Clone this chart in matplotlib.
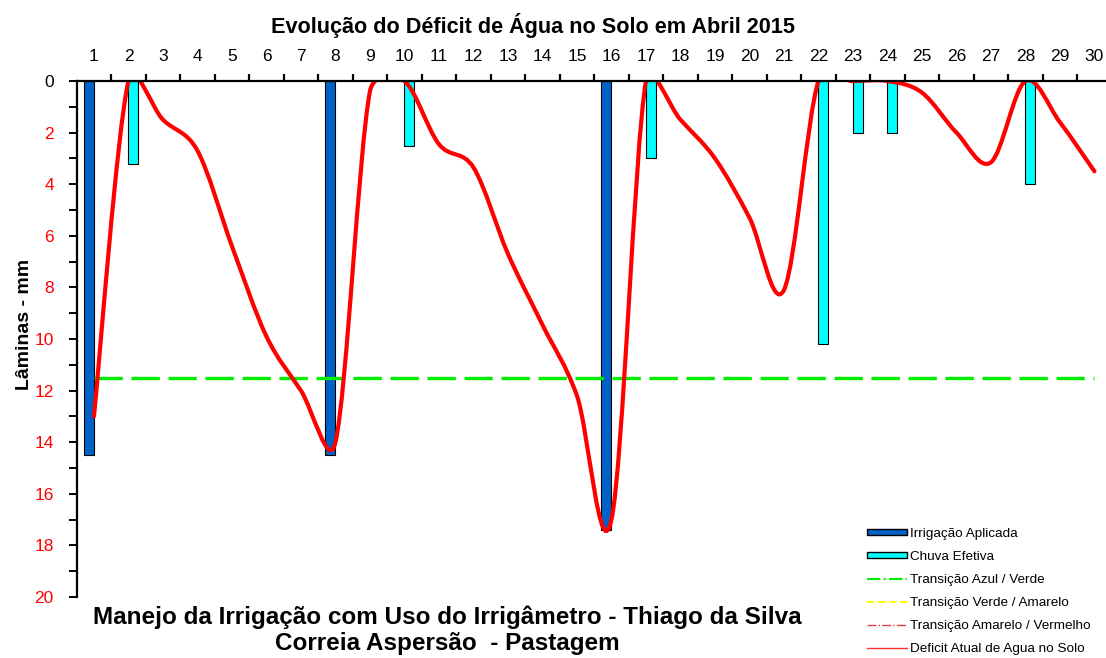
import numpy as np
import matplotlib
matplotlib.use("Agg")
import matplotlib.pyplot as plt
from matplotlib.path import Path
from matplotlib.patches import PathPatch, Patch
from matplotlib.lines import Line2D
from matplotlib.ticker import FixedLocator, MultipleLocator

plt.rcParams['font.family'] = ['Liberation Sans', 'DejaVu Sans']

# Dados (mm)
dias = list(range(1, 31))
deficit = [13.0, 0, 1.5, 2.7, 6.4, 9.9, 12.0, 14.0, 0.4, 0,
           2.45, 3.35, 6.7, 9.45, 12.2, 17.0, 0, 1.5, 3.0, 5.3,
           8.1, 0, 0, 0, 0.45, 2.0, 3.15, 0, 1.6, 3.5]
irrigacao = [14.5, 0, 0, 0, 0, 0, 0, 14.5, 0, 0,
             0, 0, 0, 0, 0, 17.4, 0, 0, 0, 0,
             0, 0, 0, 0, 0, 0, 0, 0, 0, 0]
chuva = [0, 3.2, 0, 0, 0, 0, 0, 0, 0, 2.5,
         0, 0, 0, 0, 0, 0, 3.0, 0, 0, 0,
         0, 10.2, 2.0, 2.0, 0, 0, 0, 4.0, 0, 0]
limiar_azul_verde = 11.5

titulo = "Evolução do Déficit de Água no Solo em Abril 2015"
rodape = "Manejo da Irrigação com Uso do Irrigâmetro - Thiago da Silva\nCorreia Aspersão  - Pastagem"

azul = '#0062C8'
ciano = '#00FFFF'
verde = '#00EE00'
vermelho = '#FF0000'

W, H = 1106, 658
fig = plt.figure(figsize=(W / 100, H / 100), dpi=100)
ax = fig.add_axes([76.7 / W, 1 - 597 / H, 1035 / W, 516 / H])
ax.set_xlim(0.5, 30.5)
ax.set_ylim(20, 0)

# barras
d = np.array(dias)
irr = np.array(irrigacao)
chv = np.array(chuva)
m1 = irr > 0
m2 = chv > 0
ax.bar(d[m1] - 0.145, irr[m1], width=0.29, color=azul, edgecolor='black', linewidth=0.8, zorder=1)
ax.bar(d[m2] + 0.145, chv[m2], width=0.29, color=ciano, edgecolor='black', linewidth=0.8, zorder=1)

# linha limiar
ax.plot([dias[0], dias[-1]], [limiar_azul_verde, limiar_azul_verde], color=verde,
        lw=2.4, dashes=(8.5, 2.6), zorder=2)


# linha suavizada (estilo Excel): Bezier com tangentes de Catmull-Rom,
# limitadas a metade de cada segmento (em pixels)
def curva_suave(ax, x, y):
    pts = ax.transData.transform(np.column_stack([x, y]))
    n = len(pts)
    tang = [(pts[min(i + 1, n - 1)] - pts[max(i - 1, 0)]) / 6 for i in range(n)]
    verts = [pts[0]]
    codes = [Path.MOVETO]
    for i in range(n - 1):
        seg = np.hypot(*(pts[i + 1] - pts[i])) / 2
        t0, t1 = tang[i], tang[i + 1]
        k0 = min(1.0, seg / max(np.hypot(*t0), 1e-9))
        k1 = min(1.0, seg / max(np.hypot(*t1), 1e-9))
        verts += [pts[i] + t0 * k0, pts[i + 1] - t1 * k1, pts[i + 1]]
        codes += [Path.CURVE4] * 3
    verts = ax.transData.inverted().transform(np.array(verts))
    return Path(verts, codes)


ax.add_patch(PathPatch(curva_suave(ax, dias, deficit), facecolor='none',
                       edgecolor=vermelho, lw=3.0, zorder=3, capstyle='round'))

# eixos
for s in ['right', 'bottom']:
    ax.spines[s].set_visible(False)
for s in ['left', 'top']:
    ax.spines[s].set_linewidth(1.6)
    ax.spines[s].set_zorder(4)

ax.xaxis.tick_top()
ax.xaxis.set_major_locator(FixedLocator(dias))
ax.xaxis.set_minor_locator(FixedLocator(np.arange(1.5, 30.5, 1)))
ax.set_xticklabels([str(v) for v in dias])
ax.tick_params(axis='x', which='major', length=0, pad=12.5, labelsize=12.5)
ax.tick_params(axis='x', which='minor', length=5, width=1.6, direction='out')

ax.yaxis.set_major_locator(MultipleLocator(2))
ax.yaxis.set_minor_locator(MultipleLocator(1))
ax.tick_params(axis='y', which='both', length=6, width=1.4, direction='out', pad=10.5, labelsize=12.5)
for lab in ax.get_yticklabels():
    lab.set_color('black' if lab.get_text() == '0' else 'red')

fig.text(533 / W, 1 - 25 / H, titulo, ha='center', va='center', fontsize=15.6, fontweight='bold')
fig.text(25 / W, 1 - 324 / H, "Lâminas - mm", ha='center', va='center', rotation=90,
         fontsize=14, fontweight='bold')
fig.text(447 / W, 1 - 630 / H, rodape, ha='center', va='center', fontsize=17.5,
         fontweight='bold', linespacing=1.15)

handles = [
    Patch(facecolor=azul, edgecolor='black', linewidth=1.0),
    Patch(facecolor=ciano, edgecolor='black', linewidth=1.0),
    Line2D([], [], color=verde, ls='-.', lw=1.5),
    Line2D([], [], color='#FFFF00', ls='--', lw=1.5),
    Line2D([], [], color='#E04040', ls='-.', lw=1.0),
    Line2D([], [], color='#FF3030', ls='-', lw=1.0),
]
labels = ["Irrigação Aplicada", "Chuva Efetiva", "Transição Azul / Verde",
          "Transição Verde / Amarelo", "Transição Amarelo / Vermelho",
          "Deficit Atual de Agua no Solo"]
fig.legend(handles, labels, loc='upper left', bbox_to_anchor=(866.7 / W, 1 - 527.5 / H),
           bbox_transform=fig.transFigure, frameon=False, fontsize=9.7,
           handlelength=3.0, handleheight=0.3, handletextpad=0.25,
           labelspacing=0.82, borderpad=0, borderaxespad=0)

fig.savefig("out.png", dpi=100)
